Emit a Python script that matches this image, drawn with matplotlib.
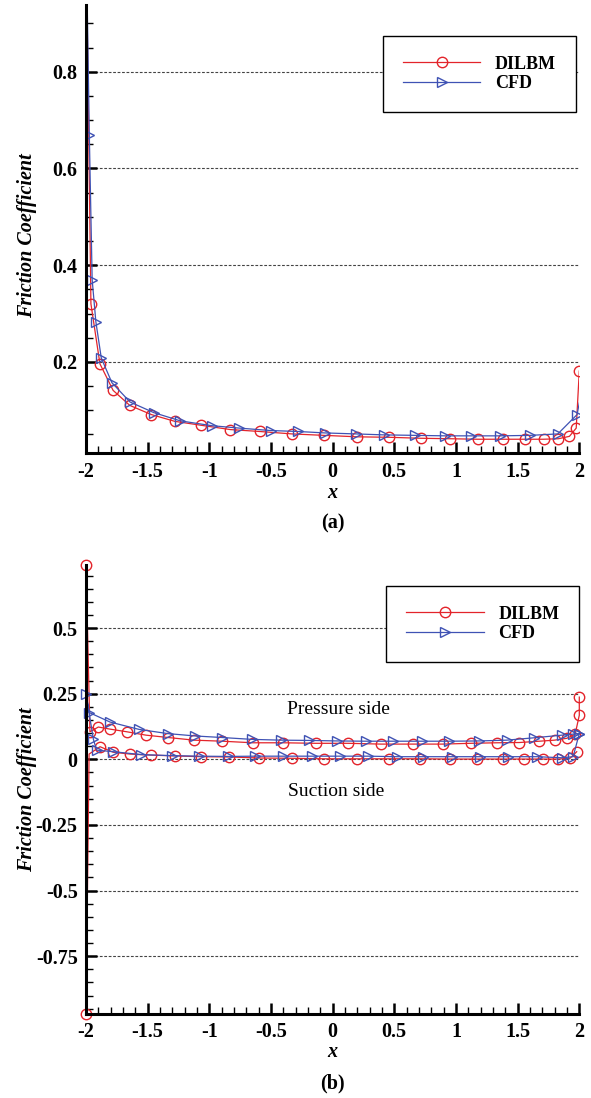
import matplotlib
matplotlib.use("Agg")
import matplotlib.pyplot as plt
from matplotlib.ticker import MultipleLocator, FuncFormatter

plt.rcParams['font.family'] = 'Liberation Serif'
plt.rcParams['axes.unicode_minus'] = False

# ---- (a) friction coefficient, single surface ----
dil_a_x = [-2.0, -1.96, -1.887, -1.78, -1.645, -1.47, -1.28, -1.07, -0.83, -0.59, -0.33, -0.07,
           0.2, 0.46, 0.715, 0.955, 1.175, 1.38, 1.56, 1.71, 1.83, 1.92, 1.975, 2.0]
dil_a_y = [1.1, 0.32, 0.196, 0.141, 0.110, 0.091, 0.077, 0.069, 0.060, 0.056, 0.051, 0.048,
           0.045, 0.044, 0.042, 0.041, 0.040, 0.040, 0.040, 0.040, 0.041, 0.046, 0.063, 0.181]
cfd_a_x = [-2.0, -1.973, -1.95, -1.92, -1.876, -1.79, -1.643, -1.45, -1.235, -0.98, -0.756, -0.503,
           -0.28, -0.059, 0.186, 0.415, 0.669, 0.914, 1.122, 1.358, 1.603, 1.826, 1.982, 2.0]
cfd_a_y = [1.1, 0.669, 0.370, 0.283, 0.208, 0.157, 0.117, 0.095, 0.078, 0.068, 0.063, 0.058,
           0.056, 0.053, 0.051, 0.049, 0.048, 0.047, 0.047, 0.047, 0.048, 0.051, 0.091, 0.115]

# ---- (b) pressure side, leading edge, then suction side ----
dil_b_x = [2.0, 2.0, 1.966, 1.898, 1.80, 1.676, 1.514, 1.331, 1.12, 0.893, 0.65, 0.392, 0.127,
           -0.137, -0.40, -0.648, -0.895, -1.124, -1.333, -1.513, -1.67, -1.805, -1.90, -1.968,
           -2.0, -2.0, -1.975,
           -1.886, -1.779, -1.643, -1.475, -1.278, -1.07, -0.838, -0.595, -0.332, -0.07, 0.195,
           0.455, 0.709, 0.95, 1.169, 1.38, 1.555, 1.709, 1.83, 1.925, 1.979]
dil_b_y = [0.237, 0.168, 0.095, 0.080, 0.073, 0.069, 0.064, 0.063, 0.061, 0.058, 0.058, 0.058, 0.061,
           0.061, 0.063, 0.063, 0.069, 0.073, 0.083, 0.092, 0.105, 0.115, 0.123, 0.105,
           0.74, -0.97, 0.02,
           0.048, 0.027, 0.020, 0.016, 0.013, 0.010, 0.009, 0.005, 0.004, 0.002, 0.002,
           0.002, 0.002, 0.001, 0.001, 0.001, 0.001, 0.001, 0.001, 0.004, 0.029]
cfd_b_x = [2.0, 1.952, 1.858, 1.633, 1.412, 1.187, 0.944, 0.723, 0.492, 0.268, 0.038, -0.191,
           -0.421, -0.656, -0.895, -1.116, -1.337, -1.57, -1.805, -1.973,
           -2.0,
           -1.94, -1.914, -1.78, -1.55, -1.305, -1.08, -0.846, -0.63, -0.40, -0.17, 0.06, 0.29,
           0.52, 0.736, 0.966, 1.195, 1.425, 1.655, 1.858, 1.95, 2.0]
cfd_b_y = [0.098, 0.096, 0.092, 0.082, 0.073, 0.070, 0.069, 0.069, 0.069, 0.069, 0.070, 0.072,
           0.073, 0.076, 0.083, 0.089, 0.098, 0.114, 0.142, 0.178,
           0.25,
           0.076, 0.035, 0.029, 0.018, 0.014, 0.012, 0.011, 0.012, 0.012, 0.012, 0.012, 0.012,
           0.010, 0.010, 0.010, 0.010, 0.010, 0.010, 0.006, 0.010, 0.098]

red = '#e3242b'
blue = '#3f52b4'
tick_font = dict(family='Liberation Serif', weight='bold', size=14.5)


def style_axes(ax, ylim, ymajor):
    ax.set_xlim(-2, 2)
    ax.set_ylim(*ylim)
    ax.xaxis.set_major_locator(MultipleLocator(0.5))
    ax.xaxis.set_minor_locator(MultipleLocator(0.1))
    ax.yaxis.set_major_locator(MultipleLocator(ymajor))
    ax.yaxis.set_minor_locator(MultipleLocator(0.05))
    ax.xaxis.set_major_formatter(FuncFormatter(lambda v, p: f'{v:g}'))
    ax.yaxis.set_major_formatter(FuncFormatter(lambda v, p: f'{v:g}'))
    for s in ['top', 'right']:
        ax.spines[s].set_visible(False)
    for s in ['left', 'bottom']:
        ax.spines[s].set_linewidth(2.2)
        ax.spines[s].set_zorder(5)
    ax.tick_params(which='major', direction='in', length=8, width=1.8, pad=6)
    ax.tick_params(which='minor', direction='in', length=5, width=1.0)
    for lab in ax.get_xticklabels() + ax.get_yticklabels():
        lab.set_fontproperties(tick_font)
    ax.yaxis.grid(True, which='major', linestyle=(0, (2.5, 1.5)), color='#444444', linewidth=0.8)
    ax.set_axisbelow(True)


def draw_series(ax, dx, dy, cx, cy, dmark, cmark, clip=True):
    ax.plot(dx, dy, color=red, linewidth=0.9, marker='o', markersize=7.5,
            markerfacecolor='none', markeredgecolor=red, markeredgewidth=1.0,
            markevery=dmark, label='DILBM', clip_on=clip)
    ax.plot(cx, cy, color=blue, linewidth=0.9, marker='>', markersize=7,
            markerfacecolor='none', markeredgecolor=blue, markeredgewidth=1.0,
            markevery=cmark, label='CFD', clip_on=clip)


fig = plt.figure(figsize=(5.91, 10.98), dpi=100)
ax1 = fig.add_axes([0.1455, 0.5872, 0.8347, 0.4082])
ax2 = fig.add_axes([0.1455, 0.0765, 0.8347, 0.4089])

draw_series(ax1, dil_a_x, dil_a_y, cfd_a_x, cfd_a_y,
            list(range(1, len(dil_a_x))), list(range(1, len(cfd_a_x) - 1)))
style_axes(ax1, (0.011, 0.938), 0.2)

# the point just after the trailing spike carries no symbol
dil_b_mark = [i for i in range(len(dil_b_x)) if i != 26]
draw_series(ax2, dil_b_x, dil_b_y, cfd_b_x, cfd_b_y, dil_b_mark, None, clip=False)
style_axes(ax2, (-0.97, 0.74), 0.25)

ax2.text(0.044, 0.191, 'Pressure side', ha='center', va='center', fontsize=14)
ax2.text(0.03, -0.124, 'Suction side', ha='center', va='center', fontsize=14)

for ax, anchor in [(ax1, (0.9927, 0.9315)), (ax2, (1.0, 0.954))]:
    leg = ax.legend(loc='upper right', bbox_to_anchor=anchor, borderaxespad=0,
                    prop=dict(family='Liberation Serif', weight='bold', size=13),
                    handlelength=4.3, handletextpad=0.8, labelspacing=0.15,
                    borderpad=1.1, fancybox=False, framealpha=1, numpoints=1)
    leg.get_frame().set_edgecolor('black')
    leg.get_frame().set_linewidth(1.0)
    leg.set_zorder(10)

ylab = dict(family='Liberation Serif', weight='bold', style='italic', size=14.5)
fig.text(0.0457, 0.785, 'Friction Coefficient', rotation=90, ha='center', va='center', **ylab)
fig.text(0.0457, 0.2805, 'Friction Coefficient', rotation=90, ha='center', va='center', **ylab)
fig.text(0.5626, 1 - 493 / 1098, 'x', ha='center', va='center', **ylab)
fig.text(0.5626, 1 - 1052 / 1098, 'x', ha='center', va='center', **ylab)
fig.text(0.5626, 1 - 523 / 1098, '(a)', ha='center', va='center',
         family='Liberation Serif', weight='bold', size=14.5)
fig.text(0.5626, 1 - 1083 / 1098, '(b)', ha='center', va='center',
         family='Liberation Serif', weight='bold', size=14.5)

fig.savefig('out.png', dpi=100)
